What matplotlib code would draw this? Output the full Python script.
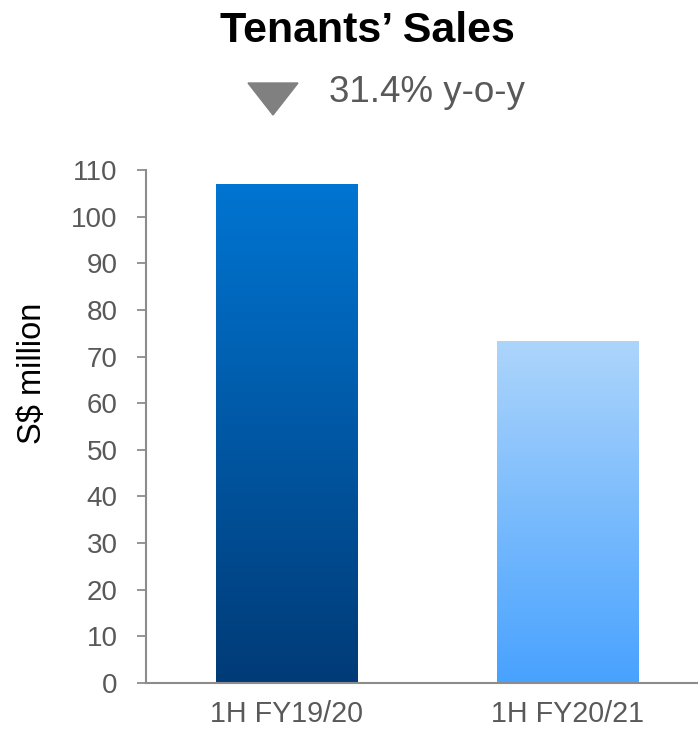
import numpy as np
import matplotlib.pyplot as plt
from matplotlib.colors import LinearSegmentedColormap
from matplotlib.patches import Polygon

plt.rcParams['font.family'] = ['Liberation Sans', 'DejaVu Sans']

# data
periods = ['1H FY19/20', '1H FY20/21']
sales = [107.0, 73.4]
change_text = '31.4% y-o-y'

# gradient colours (top, bottom) for each bar
top_colors = ['#0075D2', '#ADD5FB']
bottom_colors = ['#003B77', '#48A2FF']

fig = plt.figure(figsize=(6.98, 7.32), dpi=100)
ax = fig.add_axes([0.2092, 0.0669, 0.805, 0.7009])

x = np.arange(len(periods))
bars = ax.bar(x, sales, width=0.505, color='none', edgecolor='none')

# fill each bar with a vertical gradient
for bar, c_top, c_bot in zip(bars, top_colors, bottom_colors):
    cmap = LinearSegmentedColormap.from_list('g', [c_bot, c_top])
    x0, y0 = bar.get_x(), bar.get_y()
    w, h = bar.get_width(), bar.get_height()
    grad = np.linspace(0, 1, 256).reshape(-1, 1)
    im = ax.imshow(grad, cmap=cmap, origin='lower', aspect='auto',
                   extent=[x0, x0 + w, y0, y0 + h], zorder=2)
    im.set_clip_path(bar)

ax.set_xlim(-0.5, 1.5)
ax.set_ylim(0, 110)
ax.set_yticks(np.arange(0, 111, 10))
ax.set_xticks(x)
ax.set_xticklabels(periods, fontsize=20.6, color='#595959')
ax.tick_params(axis='x', length=0, pad=12)
ax.tick_params(axis='y', length=6.5, width=1.3, color='#8c8c8c',
               labelsize=20, labelcolor='#595959', pad=14)

for side in ['top', 'right']:
    ax.spines[side].set_visible(False)
for side in ['left', 'bottom']:
    ax.spines[side].set_color('#8c8c8c')
    ax.spines[side].set_linewidth(1.5)

# y label placed in figure coordinates
fig.text(0.047, 0.4904, 'S$ million', rotation=90, ha='center', va='center',
         fontsize=23.5, color='black')

# title and change indicator
fig.text(0.5265, 0.958, 'Tenants\u2019 Sales', ha='center', va='center',
         fontsize=31, fontweight='bold', color='black')
fig.text(0.472, 0.873, change_text, ha='left', va='center',
         fontsize=26.5, color='#595959')
tri = Polygon([[248 / 698, 1 - 83 / 732], [298 / 698, 1 - 83 / 732],
               [273 / 698, 1 - 115 / 732]], closed=True,
              transform=fig.transFigure, color='#808080')
fig.add_artist(tri)

fig.savefig('out.png', dpi=100)
